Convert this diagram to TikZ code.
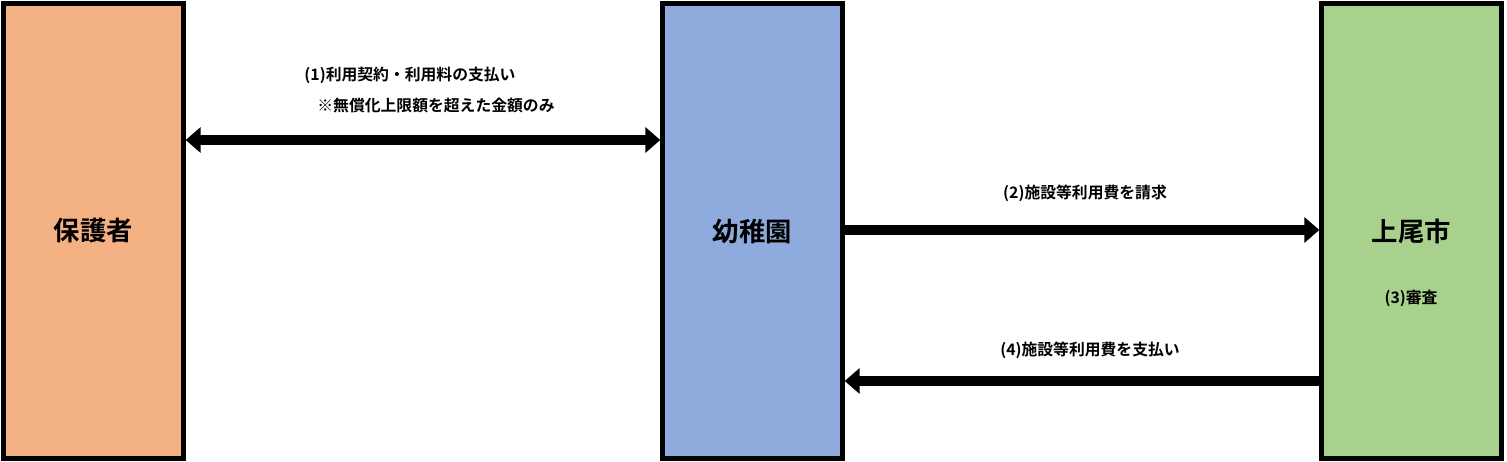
\documentclass[tikz,border=0pt]{standalone}
\usepackage{fontspec}
\newfontfamily\cjk{Noto Sans CJK JP}[BoldFont={Noto Sans CJK JP Bold}]
\usetikzlibrary{arrows.meta}
\definecolor{guardian}{HTML}{F4B183}
\definecolor{school}{HTML}{8FAADC}
\definecolor{city}{HTML}{A9D18E}
\tikzset{party/.style={draw=black,line width=2.5pt,minimum width=3.6cm,minimum height=9.1cm,inner sep=0pt,
    font=\cjk\bfseries\fontsize{15}{18}\selectfont},
  flow/.style={line width=0.2cm,-{Triangle[length=0.3cm,width=0.5cm]}},
  note/.style={font=\cjk\bfseries\fontsize{9}{11}\selectfont,inner sep=0pt}}
\begin{document}
\begin{tikzpicture}[x=0.02cm,y=-0.02cm]
                \useasboundingbox (0,0) rectangle (1507,462);
                \node[party,fill=guardian] (hogo) at (93.5,231) {保護者};
                \node[party,fill=school] (youchi) at (752.5,231) {幼稚園};
                \node[party,fill=city] (shi) at (1411.5,231) {上尾市};
                
                % Arrows
                \draw[flow,{Triangle[length=0.3cm,width=0.5cm]}-{Triangle[length=0.3cm,width=0.5cm]}] (hogo.east |- 0,140) -- (youchi.west |- 0,140);
                \draw[flow] (youchi.east |- 0,230) -- (shi.west |- 0,230);
                \draw[flow] (shi.west |- 0,381) -- (youchi.east |- 0,381);
                
                % Labels
                \node[note] (keiyaku) at (410,75) {(1)利用契約・利用料の支払い};
                \node[note] (chuki) at (436,105) {※無償化上限額を超えた金額のみ};
                \node[note] (seikyu) at (1085,193) {(2)施設等利用費を請求};
                \node[note] (shinsa) at (1411,298) {(3)審査};
                \node[note] (shiharai) at (1090,350) {(4)施設等利用費を支払い};
            \end{tikzpicture}
\end{document}
